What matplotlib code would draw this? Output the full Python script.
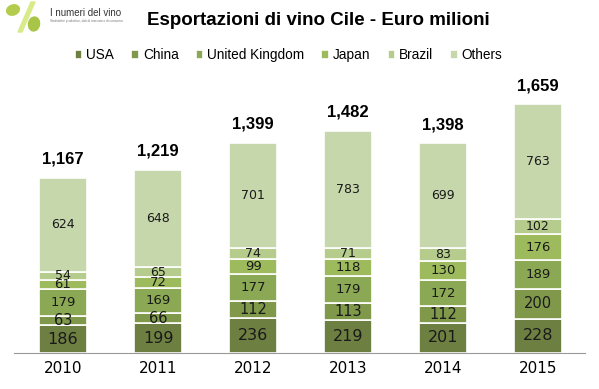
import matplotlib.pyplot as plt
import numpy as np
from matplotlib.patches import Ellipse, Polygon

years = ["2010", "2011", "2012", "2013", "2014", "2015"]
series = ["USA", "China", "United Kingdom", "Japan", "Brazil", "Others"]
usa = [186, 199, 236, 219, 201, 228]
china = [63, 66, 112, 113, 112, 200]
uk = [179, 169, 177, 179, 172, 189]
japan = [61, 72, 99, 118, 130, 176]
brazil = [54, 65, 74, 71, 83, 102]
others = [624, 648, 701, 783, 699, 763]
totals = ["1,167", "1,219", "1,399", "1,482", "1,398", "1,659"]

colors = ["#6e7f42", "#7f984a", "#8ba954", "#9dbb5c", "#b5cc8d", "#c7d7ac"]
label_size = [11.5, 10.5, 9.5, 9.5, 9, 9]

plt.rcParams['font.family'] = ['Liberation Sans', 'DejaVu Sans']

fig = plt.figure(figsize=(5.99, 3.89), dpi=100)
ax = fig.add_axes([14 / 599, 36 / 389, 571 / 599, 270 / 389])

x = np.arange(len(years))
bottom = np.zeros(len(years))
data = [usa, china, uk, japan, brazil, others]
for name, vals, col, fs in zip(series, data, colors, label_size):
    vals = np.array(vals)
    ax.bar(x, vals, 0.505, bottom=bottom, color=col, edgecolor="white",
           linewidth=1.2, label=name)
    for xi, b, v in zip(x, bottom, vals):
        ax.text(xi, b + v / 2, str(v), ha="center", va="center",
                fontsize=fs, color="#1a1a1a", family="DejaVu Sans")
    bottom += vals

for xi, top, t in zip(x, bottom, totals):
    ax.text(xi, top + 125, t, ha="center", va="center", fontsize=12,
            fontweight="bold")

ax.set_xlim(-0.516, 5.495)
ax.set_ylim(0, 1800)
ax.set_xticks(x)
ax.set_xticklabels(years, fontsize=11, family="DejaVu Sans")
ax.tick_params(axis="x", length=0, pad=6)
ax.set_yticks([])
for s in ["top", "right", "left"]:
    ax.spines[s].set_visible(False)
ax.spines["bottom"].set_color("#999999")

fig.text(0.531, 0.948, "Esportazioni di vino Cile - Euro milioni", ha="center",
         va="center", fontsize=13.5, fontweight="bold")
fig.legend(loc="center", bbox_to_anchor=(0.482, 0.858), ncol=6, frameon=False,
           fontsize=9.8, handlelength=0.55, handleheight=0.55, handletextpad=0.3,
           columnspacing=1.25)

# logo
lax = fig.add_axes([0, 1 - 36 / 389, 47 / 599, 36 / 389])
lax.set_xlim(0, 47)
lax.set_ylim(36, 0)
lax.axis("off")
lax.add_patch(Polygon([[31, 2], [35, 2], [22, 32], [18, 32]], color="#d8ea8a"))
lax.add_patch(Ellipse((13, 10), 13, 10, angle=-20, color="#b3cc4e"))
lax.add_patch(Ellipse((34, 24), 11, 14, angle=10, color="#a9c547"))
fig.text(50 / 599, 1 - 13 / 389, "I numeri del vino", fontsize=7, ha="left",
         va="center", color="#333333")
fig.text(50 / 599, 1 - 21 / 389, "Statistiche produttive, dati di mercato e di consumo",
         fontsize=2.3, ha="left", va="center", color="#777777")

fig.savefig("out.png", dpi=100)
